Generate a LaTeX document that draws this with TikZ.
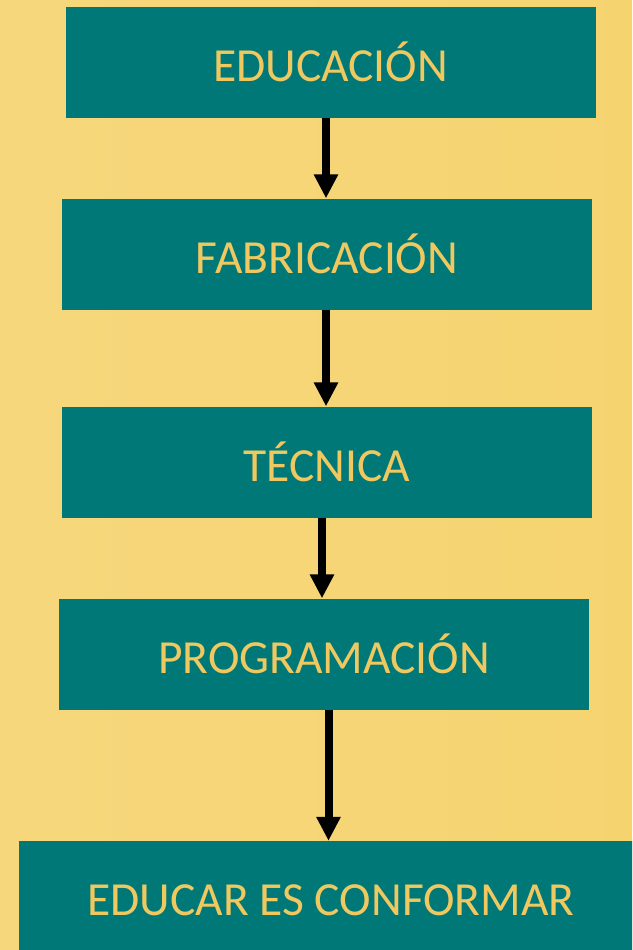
\documentclass[tikz,border=0pt]{standalone}
\usepackage{fontspec}
\setmainfont{Carlito}
\usetikzlibrary{arrows.meta}
\definecolor{bgL}{RGB}{246,215,124}
\definecolor{bgR}{RGB}{245,212,112}
\definecolor{teal}{RGB}{0,120,119}
\definecolor{gold}{RGB}{240,200,96}
\tikzset{
  box/.style={fill=teal, draw=none, inner sep=0pt, minimum width=530pt, minimum height=111pt,
    text height=38pt, text depth=0pt, text=gold, font=\fontsize{47.5pt}{50pt}\selectfont},
  arr/.style={line width=8pt, -{Triangle[width=23pt,length=24pt]}, black, shorten >=0pt}
}
\begin{document}
\begin{tikzpicture}[x=1pt,y=-1pt]
\useasboundingbox (0,0) rectangle (632,950);
\shade[left color=bgL, right color=bgR] (0,0) rectangle (632,950);
\begin{scope}
\clip (0,0) rectangle (632,950);
\node[box] (b1) at (330.5,62.5) {EDUCACIÓN};
\node[box] (b2) at (327,254) {FABRICACIÓN};
\node[box] (b3) at (327,462) {TÉCNICA};
\node[box] (b4) at (324,654) {PROGRAMACIÓN};
\node[box, minimum width=624pt, minimum height=110pt] (b5) at (331,896) {EDUCAR ES CONFORMAR};
\draw[arr] ([xshift=-1pt]b2.north |- b1.south) -- ([xshift=-1pt]b2.north);
\draw[arr] ([xshift=-1pt]b3.north |- b2.south) -- ([xshift=-1pt]b3.north);
\draw[arr] ([xshift=-5pt]b3.south) -- ([xshift=-5pt]b3.south |- b4.north);
\draw[arr] ([xshift=4.5pt]b4.south) -- ([xshift=4.5pt]b4.south |- b5.north);
\end{scope}
\end{tikzpicture}
\end{document}
